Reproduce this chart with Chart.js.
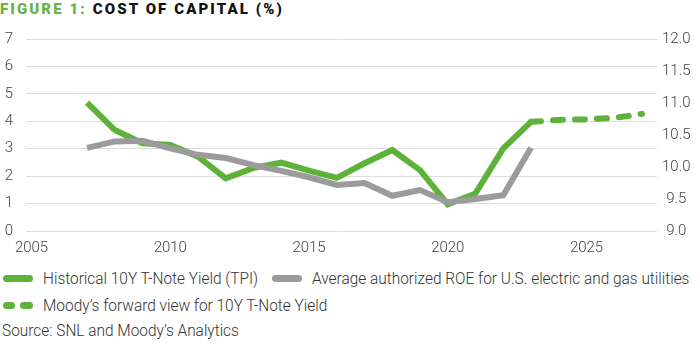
<!DOCTYPE html>
<html>
<head>
<meta charset="utf-8">
<script src="https://cdn.jsdelivr.net/npm/chart.js@4.4.1/dist/chart.umd.min.js"></script>
<style>
  html, body { margin: 0; padding: 0; background: #fff; }
  #wrap { position: relative; width: 700px; height: 345px; overflow: hidden; font-family: Roboto, "Noto Sans", sans-serif; }
  #title { position: absolute; left: 0; top: 0; line-height: 18px; font-size: 15px; font-weight: 900; letter-spacing: 2.1px; color: #111; white-space: nowrap; }
  #title .fig { color: #67b346; }
  #chartBox { position: absolute; left: 0; top: 0; width: 700px; height: 262px; }
  .lg { position: absolute; white-space: nowrap; font-size: 16.5px; font-weight: 300; color: #333; line-height: 20px; transform: scaleX(0.935); transform-origin: left center; }
  .sw { position: absolute; height: 7px; border-radius: 3.5px; }
</style>
</head>
<body>
<div id="wrap">
  <div id="title"><span class="fig">FIGURE 1:</span> COST OF CAPITAL (%)</div>
  <div id="chartBox"><canvas id="c" width="700" height="262"></canvas></div>

  <span class="sw" style="left:3px; top:275px; width:30px; background:#5db33a;"></span>
  <div class="lg" id="lg1" style="left:43px; top:269px;"></div>
  <span class="sw" style="left:272px; top:275px; width:30px; background:#9b9b9b;"></span>
  <div class="lg" id="lg2" style="left:312px; top:269px;"></div>
  <span class="sw" style="left:3px; top:302px; width:12px; background:#5db33a;"></span>
  <span class="sw" style="left:20px; top:302px; width:13px; background:#5db33a;"></span>
  <div class="lg" id="lg3" style="left:43px; top:296px;"></div>
  <div class="lg" id="src" style="left:2px; top:321px;">Source: SNL and Moody’s Analytics</div>
</div>
<script>
// Years and series values (percent)
const histYears = [2007, 2008, 2009, 2010, 2011, 2012, 2013, 2014, 2015, 2016, 2017, 2018, 2019, 2020, 2021, 2022, 2023];
const tNoteYield = [4.68, 3.68, 3.20, 3.14, 2.71, 1.92, 2.30, 2.49, 2.20, 1.94, 2.47, 2.95, 2.22, 0.97, 1.37, 3.01, 3.98];
const authorizedROE = [10.30, 10.40, 10.41, 10.29, 10.19, 10.14, 10.03, 9.94, 9.84, 9.72, 9.75, 9.55, 9.64, 9.45, 9.50, 9.56, 10.30];
const forwardYears = [2023, 2024, 2025, 2026, 2027];
const forwardYield = [3.98, 4.05, 4.07, 4.12, 4.27];
const xTickYears = [2005, 2010, 2015, 2020, 2025];

const seriesNames = [
  'Historical 10Y T-Note Yield (TPI)',
  'Average authorized ROE for U.S. electric and gas utilities',
  'Moody’s forward view for 10Y T-Note Yield'
];
document.getElementById('lg1').textContent = seriesNames[0];
document.getElementById('lg2').textContent = seriesNames[1];
document.getElementById('lg3').textContent = seriesNames[2];

const GREEN = '#5db33a';
const GREY = '#9b9b9b';
const pts = (xs, ys) => xs.map((x, i) => ({ x, y: ys[i] }));
const tickFont = { family: 'Roboto', size: 15, weight: 300 };

new Chart(document.getElementById('c'), {
  type: 'line',
  data: {
    datasets: [
      { label: seriesNames[1], data: pts(histYears, authorizedROE), yAxisID: 'yR', borderColor: GREY, borderWidth: 6, order: 0 },
      { label: seriesNames[0], data: pts(histYears, tNoteYield), yAxisID: 'yL', borderColor: GREEN, borderWidth: 6, order: 1 },
      { label: seriesNames[2], data: pts(forwardYears, forwardYield), yAxisID: 'yL', borderColor: GREEN, borderWidth: 6, borderDash: [10, 12], borderCapStyle: 'round', order: 1 }
    ]
  },
  options: {
    responsive: false,
    animation: false,
    events: [],
    layout: { padding: { top: 39, left: 0, right: 0, bottom: 0 } },
    elements: { point: { radius: 0 }, line: { tension: 0 } },
    plugins: { legend: { display: false }, tooltip: { enabled: false } },
    scales: {
      x: {
        type: 'linear', min: 2004.8, max: 2027.54,
        afterBuildTicks: s => { s.ticks = xTickYears.map(v => ({ value: v })); },
        afterFit: s => { s.height = 31; },
        grid: { display: false, drawTicks: false },
        border: { display: false },
        ticks: { padding: 8, color: '#444', font: tickFont, maxRotation: 0, callback: v => String(v) }
      },
      yL: {
        position: 'left', min: 0, max: 7,
        afterFit: s => { s.width = 26; },
        grid: { color: '#dedede', lineWidth: 1, drawTicks: false },
        border: { display: false },
        ticks: { stepSize: 1, padding: 13, color: '#444', font: tickFont }
      },
      yR: {
        position: 'right', min: 9, max: 12,
        afterFit: s => { s.width = 43; },
        grid: { display: false, drawTicks: false },
        border: { display: false },
        ticks: { stepSize: 0.5, padding: 5, crossAlign: 'center', color: '#444', font: tickFont, callback: v => v.toFixed(1) }
      }
    }
  }
});
</script>
</body>
</html>
